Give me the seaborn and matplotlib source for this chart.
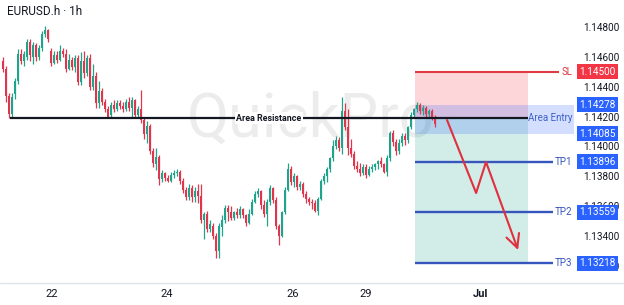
import matplotlib
matplotlib.use('Agg')
import matplotlib.pyplot as plt
import matplotlib.transforms as mtransforms
from matplotlib.lines import Line2D
import numpy as np
import pandas as pd
import seaborn as sns

# hourly candles EURUSD
opens = [1.1457, 1.1452, 1.1434, 1.1422, 1.1435, 1.1444, 1.1462, 1.1457, 1.1460, 1.1470,
         1.1460, 1.1468, 1.1460, 1.1466, 1.1475, 1.1478, 1.1464, 1.1456, 1.1461, 1.1458,
         1.1464, 1.1462, 1.1452, 1.1458, 1.1453, 1.1459, 1.1443, 1.1457, 1.1449, 1.1459,
         1.1440, 1.1447, 1.1429, 1.1437, 1.1430, 1.1425, 1.1421, 1.1428, 1.1425, 1.1429,
         1.1427, 1.1425, 1.1430, 1.1426, 1.1431, 1.1421, 1.1425, 1.1418, 1.1408, 1.1414,
         1.1397, 1.1388, 1.1393, 1.1378, 1.1382, 1.1379, 1.1377, 1.1381, 1.1382, 1.1383,
         1.1377, 1.1371, 1.1366, 1.1372, 1.1366, 1.1370, 1.1367, 1.1351, 1.1355, 1.1345,
         1.1347, 1.1340, 1.1330, 1.1346, 1.1351, 1.1359, 1.1356, 1.1352, 1.1356, 1.1354,
         1.1358, 1.1354, 1.1349, 1.1355, 1.1363, 1.1368, 1.1370, 1.1361, 1.1355, 1.1363,
         1.1372, 1.1364, 1.1347, 1.1340, 1.1356, 1.1371, 1.1385, 1.1376, 1.1380, 1.1373,
         1.1375, 1.1368, 1.1365, 1.1363, 1.1362, 1.1357, 1.1365, 1.1377, 1.1380, 1.1385,
         1.1392, 1.1400, 1.1404, 1.1399, 1.1424, 1.1413, 1.1399, 1.1395, 1.1387, 1.1385,
         1.1382, 1.1386, 1.1381, 1.1385, 1.1386, 1.1388, 1.1390, 1.1388, 1.1383, 1.1392,
         1.1409, 1.1403, 1.1397, 1.1402, 1.1407, 1.1404, 1.1413, 1.1421, 1.1425, 1.1428,
         1.1424, 1.1426, 1.1422, 1.1424, 1.1420]
highs = [1.1460, 1.1454, 1.1436, 1.1436, 1.1446, 1.1465, 1.1465, 1.1464, 1.1472, 1.1472,
         1.1470, 1.1469, 1.1468, 1.1477, 1.1481, 1.1479, 1.1466, 1.1464, 1.1464, 1.1468,
         1.1466, 1.1465, 1.1462, 1.1460, 1.1461, 1.1461, 1.1463, 1.1464, 1.1461, 1.1462,
         1.1455, 1.1450, 1.1444, 1.1439, 1.1432, 1.1427, 1.1430, 1.1431, 1.1431, 1.1431,
         1.1430, 1.1432, 1.1433, 1.1433, 1.1432, 1.1427, 1.1438, 1.1419, 1.1417, 1.1415,
         1.1399, 1.1399, 1.1394, 1.1384, 1.1383, 1.1381, 1.1383, 1.1384, 1.1385, 1.1384,
         1.1379, 1.1373, 1.1375, 1.1374, 1.1373, 1.1375, 1.1375, 1.1356, 1.1357, 1.1351,
         1.1349, 1.1342, 1.1349, 1.1354, 1.1361, 1.1361, 1.1360, 1.1357, 1.1359, 1.1360,
         1.1359, 1.1355, 1.1358, 1.1365, 1.1370, 1.1372, 1.1371, 1.1364, 1.1365, 1.1374,
         1.1373, 1.1366, 1.1348, 1.1357, 1.1373, 1.1389, 1.1387, 1.1382, 1.1381, 1.1377,
         1.1376, 1.1370, 1.1366, 1.1365, 1.1364, 1.1366, 1.1378, 1.1382, 1.1386, 1.1393,
         1.1404, 1.1407, 1.1406, 1.1433, 1.1429, 1.1425, 1.1405, 1.1397, 1.1390, 1.1389,
         1.1388, 1.1388, 1.1387, 1.1388, 1.1389, 1.1391, 1.1393, 1.1389, 1.1394, 1.1410,
         1.1411, 1.1405, 1.1405, 1.1409, 1.1409, 1.1414, 1.1423, 1.1426, 1.1430, 1.1429,
         1.1428, 1.1427, 1.1425, 1.1425, 1.1421]
lows = [1.1450, 1.1430, 1.1419, 1.1419, 1.1432, 1.1442, 1.1455, 1.1454, 1.1458, 1.1457,
        1.1455, 1.1457, 1.1458, 1.1464, 1.1473, 1.1470, 1.1454, 1.1455, 1.1456, 1.1457,
        1.1460, 1.1450, 1.1451, 1.1451, 1.1450, 1.1441, 1.1441, 1.1446, 1.1447, 1.1438,
        1.1438, 1.1426, 1.1426, 1.1428, 1.1423, 1.1419, 1.1419, 1.1423, 1.1424, 1.1425,
        1.1423, 1.1424, 1.1424, 1.1420, 1.1419, 1.1419, 1.1416, 1.1405, 1.1402, 1.1395,
        1.1386, 1.1384, 1.1374, 1.1376, 1.1377, 1.1376, 1.1376, 1.1379, 1.1380, 1.1375,
        1.1369, 1.1364, 1.1364, 1.1363, 1.1363, 1.1362, 1.1349, 1.1338, 1.1343, 1.1343,
        1.1338, 1.1325, 1.1325, 1.1340, 1.1349, 1.1350, 1.1351, 1.1351, 1.1352, 1.1352,
        1.1352, 1.1347, 1.1348, 1.1354, 1.1362, 1.1366, 1.1358, 1.1353, 1.1347, 1.1361,
        1.1362, 1.1345, 1.1334, 1.1339, 1.1355, 1.1370, 1.1374, 1.1373, 1.1371, 1.1371,
        1.1366, 1.1362, 1.1361, 1.1358, 1.1356, 1.1354, 1.1364, 1.1375, 1.1376, 1.1383,
        1.1390, 1.1398, 1.1397, 1.1395, 1.1411, 1.1394, 1.1393, 1.1385, 1.1383, 1.1380,
        1.1381, 1.1379, 1.1380, 1.1383, 1.1384, 1.1385, 1.1386, 1.1382, 1.1380, 1.1390,
        1.1400, 1.1394, 1.1395, 1.1400, 1.1401, 1.1402, 1.1412, 1.1420, 1.1423, 1.1422,
        1.1421, 1.1420, 1.1419, 1.1418, 1.1413]
closes = [1.1452, 1.1434, 1.1422, 1.1433, 1.1444, 1.1462, 1.1457, 1.1462, 1.1470, 1.1461,
          1.1468, 1.1460, 1.1466, 1.1475, 1.1478, 1.1472, 1.1456, 1.1461, 1.1458, 1.1464,
          1.1462, 1.1452, 1.1458, 1.1453, 1.1459, 1.1443, 1.1457, 1.1449, 1.1459, 1.1440,
          1.1447, 1.1429, 1.1437, 1.1430, 1.1425, 1.1420, 1.1428, 1.1425, 1.1429, 1.1427,
          1.1425, 1.1430, 1.1426, 1.1431, 1.1421, 1.1425, 1.1418, 1.1408, 1.1414, 1.1397,
          1.1389, 1.1393, 1.1378, 1.1382, 1.1379, 1.1377, 1.1381, 1.1382, 1.1383, 1.1377,
          1.1371, 1.1366, 1.1372, 1.1366, 1.1370, 1.1367, 1.1351, 1.1355, 1.1345, 1.1348,
          1.1340, 1.1330, 1.1347, 1.1351, 1.1359, 1.1356, 1.1352, 1.1356, 1.1354, 1.1358,
          1.1354, 1.1349, 1.1355, 1.1363, 1.1368, 1.1370, 1.1361, 1.1355, 1.1363, 1.1372,
          1.1364, 1.1347, 1.1340, 1.1356, 1.1371, 1.1385, 1.1376, 1.1380, 1.1373, 1.1375,
          1.1368, 1.1365, 1.1363, 1.1362, 1.1357, 1.1365, 1.1377, 1.1380, 1.1385, 1.1392,
          1.1400, 1.1404, 1.1399, 1.1424, 1.1413, 1.1399, 1.1395, 1.1387, 1.1385, 1.1382,
          1.1386, 1.1381, 1.1385, 1.1386, 1.1388, 1.1390, 1.1388, 1.1383, 1.1392, 1.1409,
          1.1403, 1.1397, 1.1402, 1.1407, 1.1404, 1.1413, 1.1421, 1.1425, 1.1428, 1.1424,
          1.1426, 1.1422, 1.1424, 1.1420, 1.1415]

# trade setup levels
resistance = 1.14190
sl_level = 1.14500
entry_hi = 1.14278
entry_lo = 1.14085
tp_levels = [1.13896, 1.13559, 1.13218]
tp_names = ['TP1', 'TP2', 'TP3']

# projected path (candle index, price)
arrow_idx = [148, 157.7, 161, 171.7]
arrow_price = [1.14177, 1.13688, 1.13896, 1.13306]

day_pos = [16.3, 54.7, 96.7, 121, 159]
day_labels = ['22', '24', '26', '29', 'Jul']
price_ticks = [1.132, 1.134, 1.136, 1.138, 1.140, 1.142, 1.144, 1.146, 1.148]

sns.set_theme(style='white')
plt.rcParams['font.family'] = ['Roboto', 'DejaVu Sans']

df = pd.DataFrame({'open': opens, 'high': highs, 'low': lows, 'close': closes})
df['idx'] = np.arange(len(df))
df['up'] = df['close'] >= df['open']
col_up, col_dn = '#1fa38b', '#e0364d'
colors = np.where(df['up'], col_up, col_dn)

fig = plt.figure(figsize=(6.24, 3.05), dpi=100)
ax = fig.add_axes([0, 22 / 305, 574 / 624, 283 / 305])
xmin, xmax = -1, 190.33
ax.set_xlim(xmin, xmax)
ax.set_ylim(1.13085, 1.14981)

# watermark
ax.text(0.326, 0.516, 'QuickPro', transform=ax.transAxes, fontsize=44,
        color='#ececec', zorder=0, ha='left', va='baseline')

# zones
zone_start, zone_end = 137.3, 175
ax.fill_between([zone_start, zone_end], resistance, sl_level, color='#f23645', alpha=0.2, lw=0, zorder=1)
ax.fill_between([zone_start, zone_end], tp_levels[-1], resistance, color='#089981', alpha=0.18, lw=0, zorder=1)
ax.fill_between([zone_start, xmax], entry_lo, entry_hi, color='#2962ff', alpha=0.2, lw=0, zorder=1)

# candles
ax.vlines(df['idx'], df['low'], df['high'], color=colors, lw=0.9, zorder=2)
body = (df['close'] - df['open']).abs().clip(lower=0.00003)
ax.bar(df['idx'], body, bottom=df[['open', 'close']].min(axis=1), width=0.7,
       color=colors, lw=0, zorder=2)

# resistance line
ax.hlines(resistance, 2.3, zone_end, color='#131722', lw=1.6, zorder=3)
ax.text(88.7, resistance, 'Area Resistance', ha='center', va='center', fontsize=6.4,
        fontweight='bold', color='#131722', zorder=4,
        bbox=dict(boxstyle='square,pad=0.15', fc='white', ec='none'))

# SL / TP lines
ax.hlines(sl_level, zone_start, 185.3, color='#e03a44', lw=1.5, zorder=3)
for lv in tp_levels:
    ax.hlines(lv, zone_start, 183.3, color='#3656bd', lw=1.7, zorder=3)

# projected move
sns.lineplot(x=arrow_idx[:-1], y=arrow_price[:-1], sort=False, estimator=None,
             color='#e0303f', lw=1.5, ax=ax, zorder=5)
ax.annotate('', xy=(arrow_idx[-1], arrow_price[-1]), xytext=(arrow_idx[-2], arrow_price[-2]),
            arrowprops=dict(arrowstyle='->,head_length=0.8,head_width=0.4', color='#e0303f',
                            lw=1.5, shrinkA=0, shrinkB=0), zorder=5)

trans = mtransforms.blended_transform_factory(ax.transAxes, ax.transData)
ax.text(0.997, sl_level, 'SL', transform=trans, ha='right', va='center', fontsize=7, color='#e03a44')
for lv, nm in zip(tp_levels, tp_names):
    ax.text(0.997, lv, nm, transform=trans, ha='right', va='center', fontsize=7, color='#3656bd')
ax.text(0.997, resistance, 'Area Entry', transform=trans, ha='right', va='center',
        fontsize=7, color='#3f62c8')

# price badges
badges = [(sl_level, '#f23645'), (entry_hi, '#2962ff'), (entry_lo, '#2962ff')] + \
         [(lv, '#2962ff') for lv in tp_levels]
for lv, fc in badges:
    ax.text(1.041, lv, f'{lv:.5f}', transform=trans, ha='center', va='center', fontsize=7.2,
            color='white', zorder=6, clip_on=False,
            bbox=dict(boxstyle='square,pad=0.25', fc=fc, ec='none'))

# axes
ax.yaxis.tick_right()
ax.set_yticks(price_ticks)
ax.set_yticklabels([f'{p:.5f}' for p in price_ticks])
ax.tick_params(axis='y', length=0, pad=6.5, labelsize=7.2, labelcolor='#131722')
ax.set_xticks(day_pos)
ax.set_xticklabels(day_labels)
ax.tick_params(axis='x', length=0, pad=4, labelsize=8, labelcolor='#131722')
ax.get_xticklabels()[-1].set_fontweight('bold')
for s in ax.spines.values():
    s.set_visible(False)
fig.add_artist(Line2D([0, 1], [22 / 305, 22 / 305], color='#e0e3eb', lw=1))

ax.text(0.012, 0.958, 'EURUSD.h · 1h', transform=ax.transAxes, fontsize=8.5,
        va='center', ha='left', color='#131722')

fig.savefig('out.png', dpi=100)
